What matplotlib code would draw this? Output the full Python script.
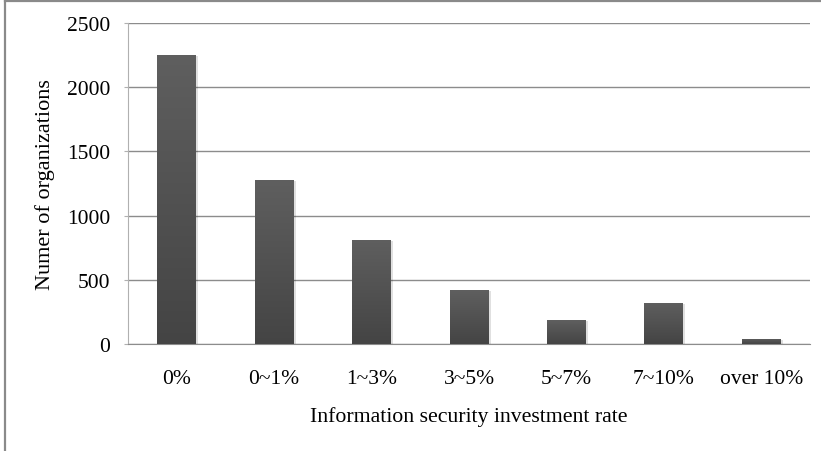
import numpy as np
import matplotlib
matplotlib.use("Agg")
import matplotlib.pyplot as plt
from matplotlib.lines import Line2D

# --- data ---
categories = ["0%", "0~1%", "1~3%", "3~5%", "5~7%", "7~10%", "over 10%"]
counts = [2252, 1277, 812, 420, 185, 320, 40]
yticks = [0, 500, 1000, 1500, 2000, 2500]

plt.rcParams["font.family"] = ["Liberation Serif", "DejaVu Serif"]

W, H = 821, 452
fig = plt.figure(figsize=(W / 100, H / 100), dpi=100)
ax = fig.add_axes([128 / W, 1 - 345 / H, (810 - 128) / W, (345 - 24) / H])

x = np.arange(len(categories))
bars = ax.bar(x, counts, width=0.4, color="#555555", zorder=3)

# vertical gradient on each bar (lighter top, darker bottom)
grad = np.linspace(0, 1, 256).reshape(-1, 1)
cmap = matplotlib.colors.LinearSegmentedColormap.from_list("g", ["#444444", "#5f5f5f"])
for b in bars:
    x0, y0 = b.get_x(), b.get_y()
    w, h = b.get_width(), b.get_height()
    # soft shadow
    ax.bar(x0 + w / 2 + 0.012, h, width=w + 0.02, bottom=-8, color="#000000",
           alpha=0.12, zorder=2)
    im = ax.imshow(grad, cmap=cmap, aspect="auto", origin="lower",
                   extent=[x0, x0 + w, y0, y0 + h], zorder=4)
    im.set_clip_path(b)

ax.set_xlim(-0.5, len(categories) - 0.5)
ax.set_ylim(0, 2500)
ax.set_yticks(yticks)
ax.set_xticks(x)
ax.set_xticklabels(categories)
ax.yaxis.grid(True, color="#8c8c8c", linewidth=1.0, zorder=0)
ax.set_axisbelow(True)

for s in ["top", "right"]:
    ax.spines[s].set_visible(False)
ax.spines["left"].set_color("#b0b0b0")
ax.spines["bottom"].set_color("#8c8c8c")
ax.tick_params(axis="y", length=3, color="#b0b0b0", labelsize=15.5, pad=10)
ax.tick_params(axis="x", length=0, labelsize=15.5, pad=18)

ax.set_xlabel("Information security investment rate", fontsize=15.7, labelpad=13)
ax.set_ylabel("Numer of organizations", fontsize=16, labelpad=8)

# outer frame (only left and top edges visible in the reference)
fig.add_artist(Line2D([4.5 / W, 4.5 / W], [0, 1 - 1.5 / H], transform=fig.transFigure,
                      color="#8a8a8a", lw=1.6))
fig.add_artist(Line2D([4.5 / W, 1], [1 - 1.5 / H, 1 - 1.5 / H], transform=fig.transFigure,
                      color="#8a8a8a", lw=1.6))

fig.savefig("out.png", dpi=100)
